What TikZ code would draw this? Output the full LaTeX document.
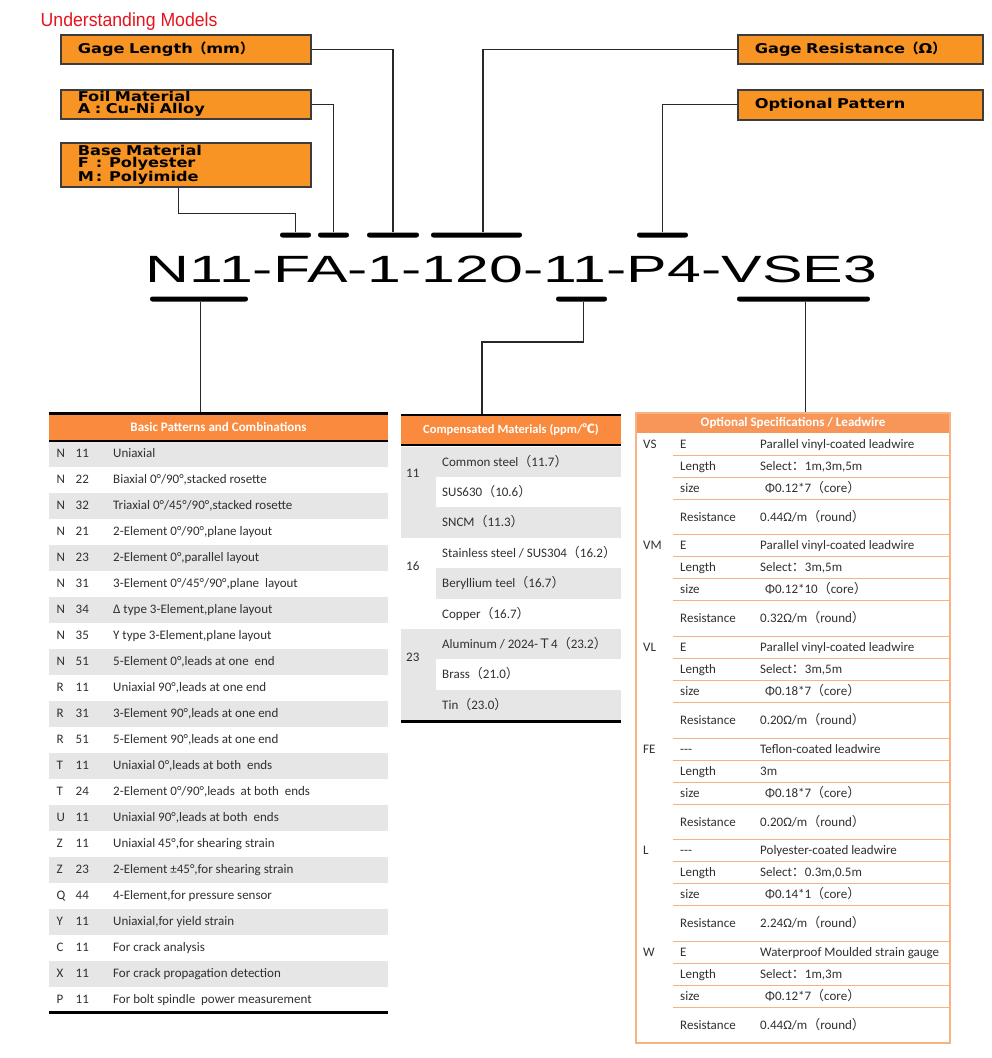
\documentclass[tikz,border=0pt]{standalone}
\usepackage{fontspec}
\setmainfont{Carlito}
\newfontfamily\arialf{Liberation Sans}
\newfontfamily\boxf{DejaVu Sans}[FakeStretch=1.2]
\newfontfamily\cjkf{Noto Sans CJK SC}
\newcommand\flp{{\cjkf （}}
\newcommand\frp{{\cjkf ）}}
\newcommand\fcol{{\cjkf ：}}
\newcommand\tdash{\mbox{-}\mbox{-}\mbox{-}}
\definecolor{boxorange}{RGB}{247,148,36}
\definecolor{boxline}{RGB}{60,60,60}
\definecolor{hdrorange}{RGB}{250,138,62}
\definecolor{hdrthree}{RGB}{247,150,88}
\definecolor{optline}{RGB}{246,178,130}
\definecolor{band}{RGB}{230,230,230}
\definecolor{txt}{RGB}{48,48,48}
\definecolor{titlered}{RGB}{230,20,30}
\definecolor{connc}{RGB}{40,40,40}
\tikzset{
  topbox/.style={draw=boxline, line width=1.6pt, fill=boxorange, minimum width=250,
    minimum height=29, text width=216, inner xsep=17, inner ysep=0, align=left,
    anchor=north west, font=\boxf\bfseries\fontsize{13.5}{12}\selectfont},
  barnode/.style={fill=black, rounded corners=2.4pt, minimum height=5, inner sep=0,
    minimum width=#1},
  conn/.style={draw=connc, line width=1.3pt},
  hdr/.style={fill=hdrorange, text=white, inner sep=0,
    font=\bfseries\fontsize{13}{13}\selectfont},
  cell/.style={anchor=base west, inner sep=0, text=txt, font=\fontsize{13}{13}\selectfont},
}
% Basic patterns row: index, gray, letter, number, description
\newcommand\browA[5]{%
  \ifnum#2=1 \fill[band] (49,440.7+26*#1) rectangle (388,466.7+26*#1);\fi
  \node[cell] (a#1l) at (56.5,457.7+26*#1) {#3};
  \node[cell] (a#1n) at (75.5,457.7+26*#1) {#4};
  \node[cell] (a#1d) at (113,457.7+26*#1) {#5};}
% Compensated materials row: index, gray, text
\newcommand\crow[3]{%
  \ifnum#2=1 \fill[band] (436,446.5+30.4*#1) rectangle (621,476.9+30.4*#1);\fi
  \node[cell] (c#1) at (442,466+30.4*#1) {#3};}
% Optional spec group: g, label, first key, desc, length, size, resistance
\newcommand\optgrp[7]{%
  \node[cell] (o#1lab) at (643,448.3+101.67*#1) {#2};
  \node[cell] (o#1k) at (680,448.3+101.67*#1) {#3};
  \node[cell] (o#1d) at (760,448.3+101.67*#1) {#4};
  \node[cell] (o#1lk) at (680,470.3+101.67*#1) {Length};
  \node[cell] (o#1lv) at (760,470.3+101.67*#1) {#5};
  \node[cell] (o#1sk) at (680,492.3+101.67*#1) {size};
  \node[cell] (o#1sv) at (765,492.3+101.67*#1) {#6};
  \node[cell] (o#1rk) at (680,521.1+101.67*#1) {Resistance};
  \node[cell] (o#1rv) at (760,521.1+101.67*#1) {#7};
  \draw[optline, line width=1pt] (673,455+101.67*#1) -- (950,455+101.67*#1);
  \draw[optline, line width=1pt] (673,477+101.67*#1) -- (950,477+101.67*#1);
  \draw[optline, line width=1pt] (673,499+101.67*#1) -- (950,499+101.67*#1);
  \ifnum#1<5 \draw[optline, line width=1pt] (673,534.67+101.67*#1) -- (950,534.67+101.67*#1);\fi}
\begin{document}
\begin{tikzpicture}[x=1pt,y=-1pt]
\useasboundingbox (0,0) rectangle (992,1058);
\fill[white] (0,0) rectangle (992,1058);

% title
\node[anchor=base west, inner sep=0, text=titlered, font=\arialf\fontsize{19}{19}\selectfont]
  (title) at (40.5,26) {\scalebox{0.93}[1]{Understanding Models}};

% top boxes
\node[topbox] (gl) at (60,34) {Gage Length\flp mm\frp};
\node[topbox] (foil) at (60,89) {Foil Material\\A : Cu-Ni Alloy};
\node[topbox, minimum height=44] (base) at (60,142)
  {Base Material\\\makebox[1em][l]{F} : Polyester\\\makebox[1em][l]{M} : Polyimide};
\node[topbox, minimum width=245, text width=211] (gr) at (737,34) {Gage Resistance\flp Ω\frp};
\node[topbox, minimum width=245, text width=211, minimum height=30] (op) at (737,89) {Optional Pattern};

% model number
\node[anchor=base, inner sep=0, font=\arialf\fontsize{38}{38}\selectfont]
  (model) at (511.5,282.3) {\scalebox{1.6}[1]{N11-FA-1-120-11-P4-VSE3}};

% bars
\node[barnode=31] (bF) at (295.5,235) {};
\node[barnode=31] (bA) at (333.5,235) {};
\node[barnode=52] (b1) at (393,235) {};
\node[barnode=91] (b120) at (476.5,235) {};
\node[barnode=51] (bP) at (662.5,235) {};
\node[barnode=98] (bN) at (199,299) {};
\node[barnode=51] (b11) at (581.5,299) {};
\node[barnode=133] (bV) at (803.5,299) {};

% table headers
\node[hdr, minimum width=339, minimum height=27.4] (h1) at (218.5,427) {Basic Patterns and Combinations};
\node[hdr, minimum width=220, minimum height=30] (h2) at (511,430)
  {\fontsize{12.5}{12.5}\selectfont Compensated Materials (ppm/{\cjkf ℃})};
\node[hdr, fill=hdrthree, minimum width=314, minimum height=20] (h3) at (793,423) {Optional Specifications / Leadwire};

% connectors
\draw[conn] (gl.east) -| (b1.north);
\draw[conn] (foil.east) -| (bA.north);
\draw[conn] ([xshift=-7.5pt]base.south) -- ++(0,26) -| (bF.north);
\draw[conn] (gr.west) -| ([xshift=6.5pt]b120.north);
\draw[conn] (op.west) -| (bP.north);
\draw[conn] ([xshift=1.5pt]bN.south) -- ([xshift=1.5pt]bN.south |- h1.north);
\coordinate (k11) at (482,342);
\draw[conn] ([xshift=2pt]b11.south) |- (k11) -- (k11 |- h2.north);
\draw[conn] ([xshift=2pt]bV.south) -- ([xshift=2pt]bV.south |- h3.north);

% table 1
\browA{0}{1}{N}{11}{Uniaxial}
\browA{1}{0}{N}{22}{Biaxial 0°/90°,stacked rosette}
\browA{2}{1}{N}{32}{Triaxial 0°/45°/90°,stacked rosette}
\browA{3}{0}{N}{21}{2-Element 0°/90°,plane layout}
\browA{4}{1}{N}{23}{2-Element 0°,parallel layout}
\browA{5}{0}{N}{31}{3-Element 0°/45°/90°,plane\ \ layout}
\browA{6}{1}{N}{34}{Δ type 3-Element,plane layout}
\browA{7}{0}{N}{35}{Y type 3-Element,plane layout}
\browA{8}{1}{N}{51}{5-Element 0°,leads at one\ \ end}
\browA{9}{0}{R}{11}{Uniaxial 90°,leads at one end}
\browA{10}{1}{R}{31}{3-Element 90°,leads at one end}
\browA{11}{0}{R}{51}{5-Element 90°,leads at one end}
\browA{12}{1}{T}{11}{Uniaxial 0°,leads at both\ \ ends}
\browA{13}{0}{T}{24}{2-Element 0°/90°,leads\ \ at both\ \ ends}
\browA{14}{1}{U}{11}{Uniaxial 90°,leads at both\ \ ends}
\browA{15}{0}{Z}{11}{Uniaxial 45°,for shearing strain}
\browA{16}{1}{Z}{23}{2-Element ±45°,for shearing strain}
\browA{17}{0}{Q}{44}{4-Element,for pressure sensor}
\browA{18}{1}{Y}{11}{Uniaxial,for yield strain}
\browA{19}{0}{C}{11}{For crack analysis}
\browA{20}{1}{X}{11}{For crack propagation detection}
\browA{21}{0}{P}{11}{For bolt spindle\ \ power measurement}
\draw[line width=3pt] (h1.north west) -- (h1.north east);
\draw[line width=2.2pt] (h1.south west) -- (h1.south east);
\draw[line width=3pt] (49,1012.2) -- (388,1012.2);

% table 2
\fill[band] (401,446.5) rectangle (436,537.7);
\fill[band] (401,629) rectangle (436,720.1);
\crow{0}{1}{Common steel\flp 11.7\frp}
\crow{1}{0}{SUS630\flp 10.6\frp}
\crow{2}{1}{SNCM\flp 11.3\frp}
\crow{3}{0}{Stainless steel / SUS304\flp 16.2\frp}
\crow{4}{1}{Beryllium teel\flp 16.7\frp}
\crow{5}{0}{Copper\flp 16.7\frp}
\crow{6}{1}{Aluminum / 2024-{\cjkf Ｔ}4\flp 23.2\frp}
\crow{7}{0}{Brass\flp 21.0\frp}
\crow{8}{1}{Tin\flp 23.0\frp}
\node[cell] (g11) at (406,477.3) {11};
\node[cell] (g16) at (406,570) {16};
\node[cell] (g23) at (406,661.3) {23};
\draw[line width=2.5pt] (h2.north west) -- (h2.north east);
\draw[line width=2pt] (h2.south west) -- (h2.south east);
\draw[line width=3pt] (401,721) -- (621,721);

% table 3
\optgrp{0}{VS}{E}{Parallel vinyl-coated leadwire}{Select\fcol 1m,3m,5m}{Φ0.12*7\flp core\frp}{0.44Ω/m\flp round\frp}
\optgrp{1}{VM}{E}{Parallel vinyl-coated leadwire}{Select\fcol 3m,5m}{Φ0.12*10\flp core\frp}{0.32Ω/m\flp round\frp}
\optgrp{2}{VL}{E}{Parallel vinyl-coated leadwire}{Select\fcol 3m,5m}{Φ0.18*7\flp core\frp}{0.20Ω/m\flp round\frp}
\optgrp{3}{FE}{\tdash}{Teflon-coated leadwire}{3m}{Φ0.18*7\flp core\frp}{0.20Ω/m\flp round\frp}
\optgrp{4}{L}{\tdash}{Polyester-coated leadwire}{Select\fcol 0.3m,0.5m}{Φ0.14*1\flp core\frp}{2.24Ω/m\flp round\frp}
\optgrp{5}{W}{E}{Waterproof Moulded strain gauge}{Select\fcol 1m,3m}{Φ0.12*7\flp core\frp}{0.44Ω/m\flp round\frp}
\draw[optline, line width=1.5pt] (636,413) rectangle (950,1043);
\end{tikzpicture}
\end{document}
